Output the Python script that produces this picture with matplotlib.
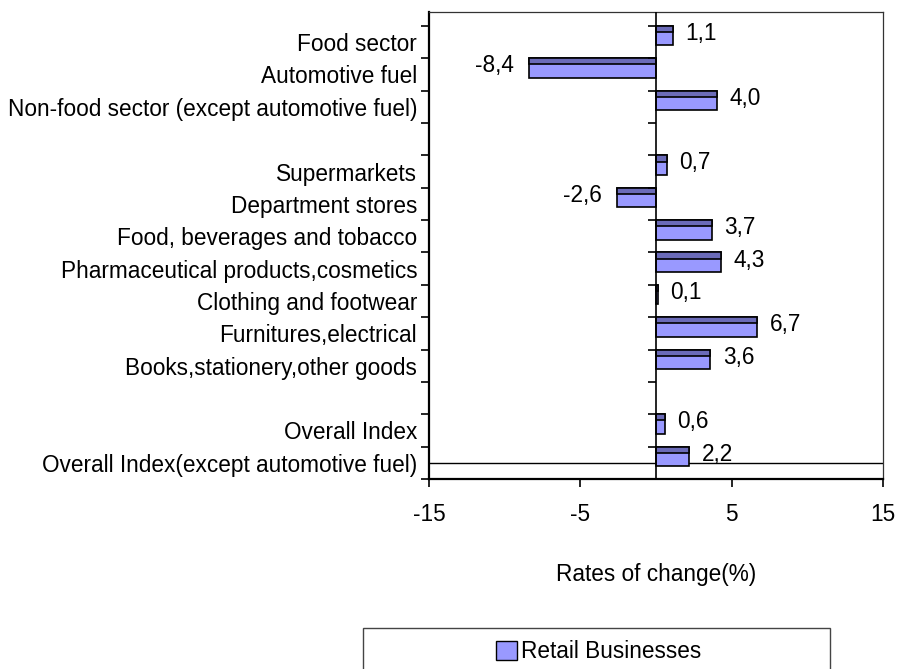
import matplotlib
matplotlib.use("Agg")
from matplotlib import pyplot as plt
from matplotlib.patches import Patch, Rectangle

plt.rcParams["font.family"] = ["Liberation Sans", "DejaVu Sans"]
plt.rcParams["font.size"] = 16.3

## data (top to bottom, "" = empty slot)
categories = [
    "Food sector",
    "Automotive fuel",
    "Non-food sector (except automotive fuel)",
    "",
    "Supermarkets",
    "Department stores",
    "Food, beverages and tobacco",
    "Pharmaceutical products,cosmetics",
    "Clothing and footwear",
    "Furnitures,electrical",
    "Books,stationery,other goods",
    "",
    "Overall Index",
    "Overall Index(except automotive fuel)",
]
values = [1.1, -8.4, 4.0, None, 0.7, -2.6, 3.7, 4.3, 0.1, 6.7, 3.6, None, 0.6, 2.2]
x_ticks = [-15, -5, 5, 15]
series_name = "Retail Businesses"

light = "#9999ff"
dark = "#6b6bb8"

fig = plt.figure(figsize=(9, 6.69), dpi=100)
W, H = 900, 669
ax = fig.add_axes([429 / W, 1 - 479 / H, (883 - 429) / W, (479 - 12) / H])

pos = [i for i, v in enumerate(values) if v is not None]
vals = [v for v in values if v is not None]

# bars: light body with darker top strip
ax.barh(pos, vals, height=0.6, align="edge", color=light, edgecolor="black", linewidth=1.2, zorder=3)
ax.barh(pos, vals, height=0.19, align="edge", color=dark, edgecolor="black", linewidth=1.2, zorder=3)

# value labels
for p, v in zip(pos, vals):
    txt = f"{v:.1f}".replace(".", ",")
    if v < 0:
        ax.annotate(txt, (v, p + 0.3), xytext=(-11, 1.5), textcoords="offset points",
                    ha="right", va="center", zorder=4)
    else:
        ax.annotate(txt, (v, p + 0.3), xytext=(9, 1.5), textcoords="offset points",
                    ha="left", va="center", zorder=4)

n = len(categories)
ax.set_xlim(-15, 15)
ax.set_ylim(n, -0.43)

# zero line with its own ticks
ax.axvline(0, color="black", linewidth=1.2, zorder=4)
ax.hlines(range(n + 1), -0.53, 0, color="black", linewidth=1.2, zorder=4)
# bottom reference line
ax.axhline(13.52, color="black", linewidth=1.0, zorder=2)

# axis ticks
ax.set_xticks(x_ticks)
ax.set_xticklabels([str(t) for t in x_ticks])
ax.tick_params(axis="x", direction="out", length=6, width=1.2, pad=11)

ax.set_yticks(range(n + 1))
ax.set_yticklabels([])
ax.set_yticks([i + 0.5 for i in range(n)], minor=True)
ax.set_yticklabels(categories, minor=True)
ax.tick_params(axis="y", which="major", direction="out", length=6, width=1.2)
ax.tick_params(axis="y", which="minor", length=0, pad=8.5)

for side in ["left", "bottom"]:
    ax.spines[side].set_linewidth(1.6)
for side in ["top", "right"]:
    ax.spines[side].set_linewidth(0.9)
    ax.spines[side].set_color("#333333")

ax.set_xlabel("Rates of change(%)", labelpad=27)

# legend box (runs off the bottom edge)
fig.patches.append(Rectangle((363 / W, -0.05), (830 - 363) / W, (669 - 628) / H + 0.05,
                             transform=fig.transFigure, fill=False,
                             edgecolor="#444444", linewidth=1.0))
fig.legend(handles=[Patch(facecolor=light, edgecolor="black")], labels=[series_name],
           loc="center", bbox_to_anchor=(599 / W, 1 - 652 / H), frameon=False,
           handlelength=0.9, handleheight=0.9, handletextpad=0.2)

fig.savefig("out.png", dpi=100)
